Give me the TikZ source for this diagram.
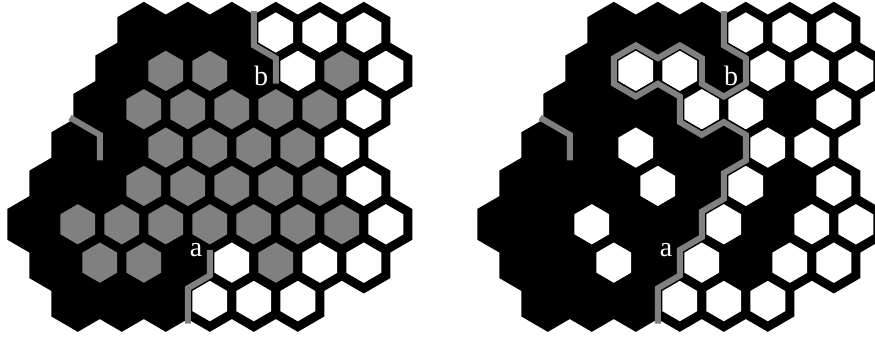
\documentclass[tikz,border=0pt]{standalone}
\usepackage{tikz}
\usepackage{fontspec}
\newfontfamily\labfont{Liberation Serif}
\definecolor{hg}{RGB}{128,128,128}
\newcommand\hexcell[3]{%
  \pgfmathsetmacro\hx{11.8+22*#2}%
  \pgfmathsetmacro\hy{32.6+38.35*#1}%
  \path[cell,fill=#3] (\hx,\hy-25.57) -- (\hx+22,\hy-12.78) -- (\hx+22,\hy+12.78)
    -- (\hx,\hy+25.57) -- (\hx-22,\hy+12.78) -- (\hx-22,\hy-12.78) -- cycle;}
\newcommand\drawboard[1]{%
  \foreach \r/\cells in {#1}{%
    \foreach \k/\c in \cells {\hexcell{\r}{\k}{\c}}}}
\begin{document}
\begin{tikzpicture}[x=1pt,y=-1pt,
  cell/.style={draw=black,line width=9pt,line join=miter},
  trail/.style={draw=hg,line width=6pt,line join=miter,line cap=butt},
  lab/.style={text=white,font=\labfont\fontsize{28}{28}\selectfont,anchor=base,inner sep=0pt}]
\useasboundingbox[fill=white] (0,0) rectangle (875,341);
% ---------- left board ----------
\begin{scope}
\drawboard{
 0/{6/black,8/black,10/black,12/white,14/white,16/white},
 1/{5/black,7/hg,9/hg,11/black,13/white,15/hg,17/white},
 2/{4/black,6/hg,8/hg,10/hg,12/hg,14/hg,16/white},
 3/{3/black,5/black,7/hg,9/hg,11/hg,13/hg,15/white},
 4/{2/black,4/black,6/hg,8/hg,10/hg,12/hg,14/hg,16/white},
 5/{1/black,3/hg,5/hg,7/hg,9/hg,11/hg,13/hg,15/hg,17/white},
 6/{2/black,4/hg,6/hg,8/black,10/white,12/hg,14/white,16/white},
 7/{3/black,5/black,7/black,9/white,11/white,13/white}}
\draw[trail] (70,117.6) -- (99.8,134.87) -- (99.8,160.43);
\draw[trail] (253.8,11) -- (253.8,45.38) -- (275.8,58.17) -- (275.8,83.73);
\draw[trail] (209.8,249.92) -- (209.8,275.48) -- (187.8,288.27) -- (187.8,313.83) -- (187.8,323.5);
\node[lab] (lb) at (261,85.5) {b};
\node[lab] (la) at (196,256) {a};
\end{scope}
% ---------- right board ----------
\begin{scope}[xshift=470pt]
\drawboard{
 0/{6/black,8/black,10/black,12/white,14/white,16/white},
 1/{5/black,7/white,9/white,11/black,13/white,15/white,17/white},
 2/{4/black,6/black,8/black,10/white,12/white,14/black,16/white},
 3/{3/black,5/black,7/white,9/black,11/black,13/white,15/white},
 4/{2/black,4/black,6/black,8/white,10/black,12/white,14/black,16/white},
 5/{1/black,3/black,5/white,7/black,9/black,11/white,13/black,15/white,17/white},
 6/{2/black,4/black,6/white,8/black,10/white,12/black,14/white,16/white},
 7/{3/black,5/black,7/black,9/white,11/white,13/white}}
\draw[trail] (70,117.6) -- (99.8,134.87) -- (99.8,160.43);
\draw[trail] (253.8,11) -- (253.8,45.38) -- (275.8,58.17) -- (275.8,83.73)
  -- (253.8,96.52) -- (231.8,83.73) -- (231.8,58.17) -- (209.8,45.38)
  -- (187.8,58.17) -- (165.8,45.38) -- (143.8,58.17) -- (143.8,83.73)
  -- (165.8,96.52) -- (187.8,83.73) -- (209.8,96.52) -- (209.8,122.08)
  -- (231.8,134.87) -- (253.8,122.08) -- (275.8,134.87) -- (275.8,160.43)
  -- (253.8,173.22) -- (253.8,198.78) -- (231.8,211.57) -- (231.8,237.13)
  -- (209.8,249.92) -- (209.8,275.48) -- (187.8,288.27) -- (187.8,313.83)
  -- (187.8,323.5);
\node[lab] (rb) at (261,85.5) {b};
\node[lab] (ra) at (196,256) {a};
\end{scope}
\end{tikzpicture}
\end{document}
